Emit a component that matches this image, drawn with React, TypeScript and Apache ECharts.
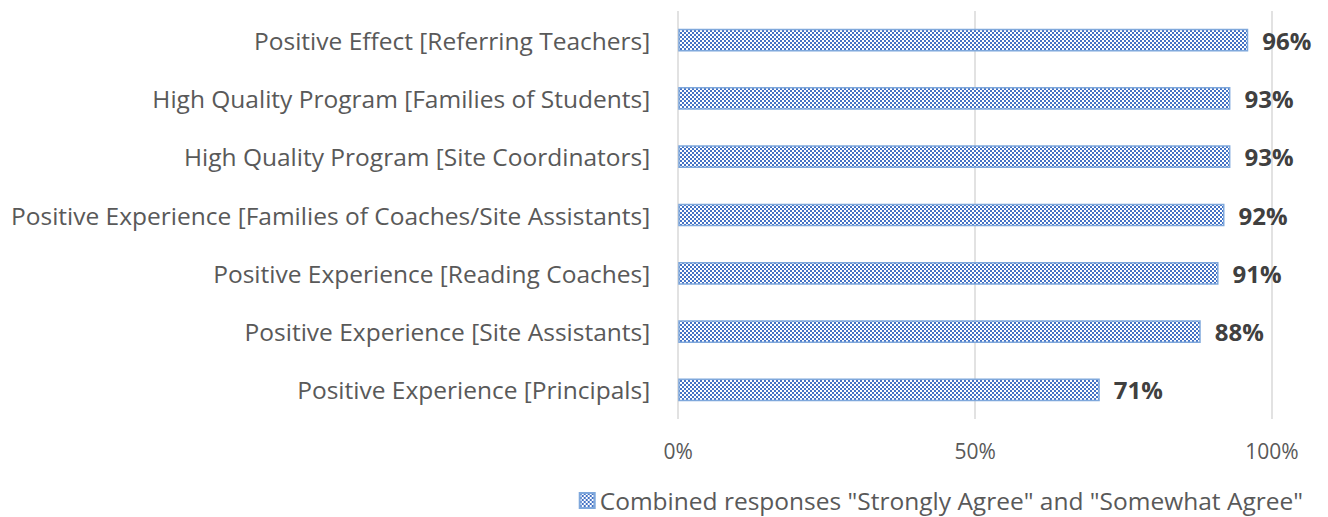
import React, { useEffect, useRef } from "react";
import * as echarts from "echarts";

const categories = [
  "Positive Effect [Referring Teachers]",
  "High Quality Program [Families of Students]",
  "High Quality Program [Site Coordinators]",
  "Positive Experience [Families of Coaches/Site Assistants]",
  "Positive Experience [Reading Coaches]",
  "Positive Experience [Site Assistants]",
  "Positive Experience [Principals]",
];
const values = [96, 93, 93, 92, 91, 88, 71];
const seriesName = 'Combined responses "Strongly Agree" and "Somewhat Agree"';
const xTicks = [0, 50, 100];

function makePattern(): HTMLCanvasElement {
  const c = document.createElement("canvas");
  c.width = 4;
  c.height = 4;
  const ctx = c.getContext("2d")!;
  ctx.fillStyle = "#ffffff";
  ctx.fillRect(0, 0, 4, 4);
  ctx.fillStyle = "#4472C4";
  ctx.fillRect(0, 0, 2, 2);
  ctx.fillRect(2, 2, 2, 2);
  return c;
}

export default function App() {
  const ref = useRef<HTMLDivElement>(null);
  useEffect(() => {
    if (!ref.current) return;
    const chart = echarts.init(ref.current, undefined, { renderer: "svg" });
    const pattern = { image: makePattern(), repeat: "repeat" as const };
    chart.setOption({
      animation: false,
      textStyle: { fontFamily: "Open Sans" },
      grid: { left: 668, right: 48, top: 3, bottom: 98, containLabel: false },
      xAxis: {
        type: "value",
        min: 0,
        max: 100,
        interval: 50,
        axisLine: { show: false },
        axisTick: { show: false },
        splitLine: { lineStyle: { color: "#d9d9d9", width: 1.5 } },
        axisLabel: {
          formatter: (v: number) => (xTicks.includes(v) ? v + "%" : ""),
          color: "#595959",
          fontSize: 21,
          margin: 21,
          fontFamily: "Open Sans",
        },
      },
      yAxis: {
        type: "category",
        data: categories,
        inverse: true,
        axisLine: { show: false },
        axisTick: { show: false },
        axisLabel: {
          color: "#595959",
          fontSize: 24.5,
          margin: 28,
          fontFamily: "Open Sans",
        },
      },
      legend: {
        top: 475,
        right: 12,
        icon: "rect",
        itemWidth: 15,
        itemHeight: 15,
        itemGap: 8,
        textStyle: { color: "#595959", fontSize: 24.5, fontFamily: "Open Sans" },
        data: [seriesName],
      },
      series: [
        {
          name: seriesName,
          type: "bar",
          data: values,
          barWidth: "39%",
          itemStyle: {
            color: pattern,
            borderColor: "#7FA8DC",
            borderWidth: 1.5,
          },
          label: {
            show: true,
            position: "right",
            distance: 14,
            formatter: "{c}%",
            color: "#404040",
            fontSize: 24,
            fontWeight: "bold",
            fontFamily: "Open Sans",
          },
        },
      ],
    });
    return () => chart.dispose();
  }, []);
  return <div ref={ref} style={{ width: 1312, height: 509 }} />;
}
